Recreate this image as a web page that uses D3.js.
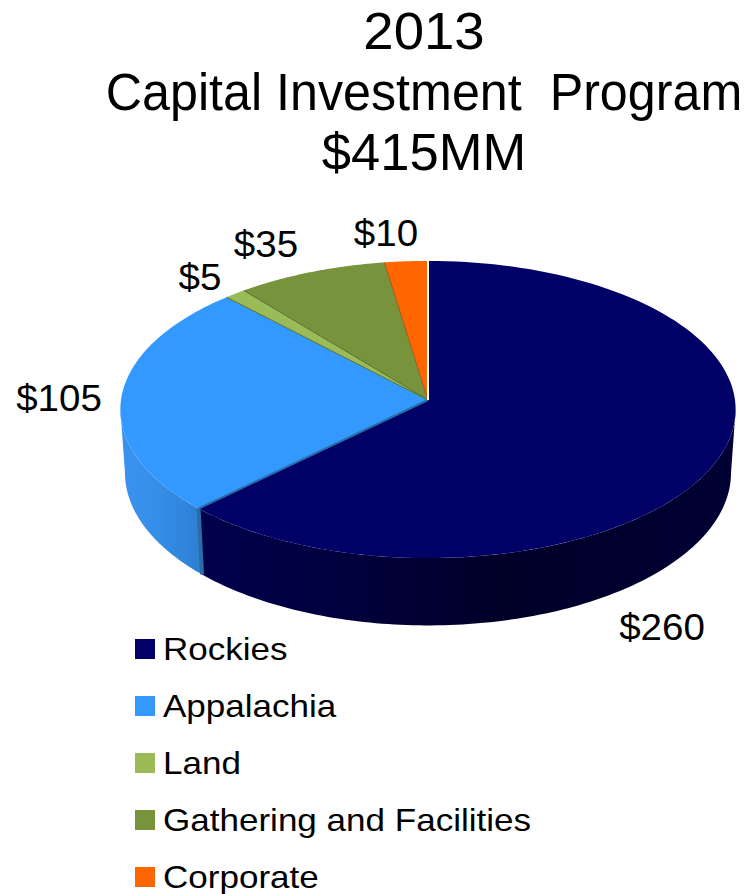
<!DOCTYPE html>
<html>
<head>
<meta charset="utf-8">
<script src="https://cdn.jsdelivr.net/npm/d3@7"></script>
<style>
html, body { margin: 0; padding: 0; background: #fff; }
svg { display: block; }
text { font-family: "Liberation Sans", Arial, sans-serif; fill: #000; white-space: pre; }
</style>
</head>
<body>
<svg id="chart" width="746" height="894"></svg>
<script>
// Capital programme by area, $MM
const categories = ["Rockies", "Appalachia", "Land", "Gathering and Facilities", "Corporate"];
const values = [260, 105, 5, 35, 10];
const valueLabels = ["$260", "$105", "$5", "$35", "$10"];
const titleLines = ["2013", "Capital Investment  Program", "$415MM"];

const topColors = ["#000066", "#3399ff", "#9bbb59", "#77933c", "#ff6600"];
const seamColors = ["#000066", "#2a6ca6", "#55702c", "#55702c", "#a8551a"];

const svg = d3.select("#chart");

// Tilted-disc projection with mild perspective: the far rim is compressed.
const cx = 428, cy = 400, rx = 307, ry = 148, persp = 0.064;
const depth = 63, baseShrink = 0.985;

function rim(angle, lowered) {
  const X = Math.sin(angle), Y = Math.cos(angle);
  const s = 1 / (1 + persp * Y);
  const k = lowered ? baseShrink : 1;
  return [
    cx + rx * X * s * k,
    cy - ry * Y * s + (lowered ? depth * s : 0)
  ];
}

const arcs = d3.pie().sort(null).startAngle(0).endAngle(2 * Math.PI)(values);
const line = d3.line();
const sweep = (a0, a1) => d3.range(0, 121).map(i => a0 + (a1 - a0) * i / 120);

// Side-wall shading runs left to right across the disc.
const defs = svg.append("defs");
const wall = (id, stops) => {
  const g = defs.append("linearGradient").attr("id", id)
    .attr("gradientUnits", "userSpaceOnUse")
    .attr("x1", cx - rx).attr("x2", cx + rx).attr("y1", 0).attr("y2", 0);
  stops.forEach(([o, c]) => g.append("stop").attr("offset", o).attr("stop-color", c));
};
wall("wall-0", [[0.12, "#00004e"], [0.4, "#00003a"], [0.62, "#000028"], [1, "#000034"]]);
wall("wall-1", [[0, "#3a92ee"], [0.05, "#3690ea"], [0.13, "#2f7fd2"]]);

// Only the front half of the wall is visible, between the silhouette extremes.
const frontStart = Math.acos(-persp), frontEnd = 2 * Math.PI - frontStart;
const walls = svg.append("g");
arcs.forEach((d, i) => {
  const a0 = Math.max(d.startAngle, frontStart), a1 = Math.min(d.endAngle, frontEnd);
  if (a1 <= a0) return;
  const angles = sweep(a0, a1);
  const pts = angles.map(a => rim(a, false)).concat(angles.slice().reverse().map(a => rim(a, true)));
  walls.append("path")
    .attr("d", line(pts) + "Z")
    .attr("fill", `url(#wall-${i})`);
});

// Exposed cut face where Appalachia meets Rockies.
const cut = arcs[0].endAngle;
walls.append("path")
  .attr("d", line([rim(cut, false), rim(cut, true)]))
  .attr("stroke", "#2a6ca6").attr("stroke-width", 4).attr("fill", "none");

// Top face of the disc.
const faces = svg.append("g");
arcs.forEach((d, i) => {
  const pts = [[cx, cy]].concat(sweep(d.startAngle, d.endAngle).map(a => rim(a, false)));
  faces.append("path")
    .attr("d", line(pts) + "Z")
    .attr("fill", topColors[i]);
});

// Seams between neighbouring slices, drawn from the same slice boundaries.
arcs.slice(1).forEach((d, i) => {
  faces.append("path")
    .attr("d", line([[cx, cy], rim(d.startAngle, false)]))
    .attr("stroke", seamColors[i + 1])
    .attr("stroke-width", i === 0 ? 2 : 1)
    .attr("fill", "none");
});
faces.append("path")
  .attr("d", line([[cx, cy], rim(0, false)]))
  .attr("stroke", "#fff").attr("stroke-width", 2).attr("fill", "none");

// Text is widened horizontally around its anchor to get the set width of the heading face.
const widened = (x, y, sx) => `translate(${x},${y}) scale(${sx},1)`;

// Title
const titleStretch = [1.07, 0.985, 1.03];
svg.append("g").selectAll("text").data(titleLines).join("text")
  .attr("transform", (d, i) => widened(424, 49 + i * 60.5, titleStretch[i]))
  .attr("text-anchor", "middle")
  .attr("font-size", 51)
  .text(d => d);

// Value labels sit outside the rim of their slices.
const labelAnchors = [[662, 640], [59, 411], [200, 290], [266, 257], [386, 246]];
svg.append("g").selectAll("text").data(valueLabels).join("text")
  .attr("transform", (d, i) => widened(labelAnchors[i][0], labelAnchors[i][1], 1.07))
  .attr("text-anchor", "middle")
  .attr("font-size", 36)
  .text(d => d);

// Legend
const legendY = d3.scalePoint().domain(categories).range([649, 877]);
const legend = svg.append("g").selectAll("g").data(categories).join("g")
  .attr("transform", d => `translate(135,${legendY(d)})`);
legend.append("rect")
  .attr("x", 0).attr("y", -10).attr("width", 20).attr("height", 20)
  .attr("fill", (d, i) => topColors[i]);
legend.append("text")
  .attr("transform", widened(28, 11, 1.095))
  .attr("font-size", 32)
  .text(d => d);
</script>
</body>
</html>
